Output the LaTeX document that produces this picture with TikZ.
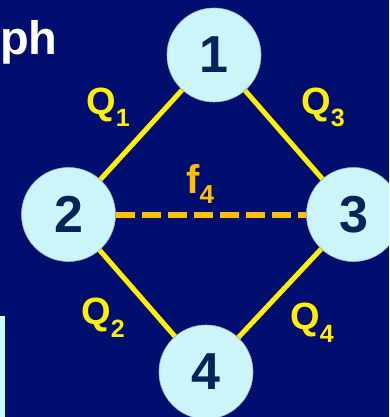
\documentclass[tikz,border=0pt]{standalone}
\usepackage{fontspec}
\setmainfont{Liberation Sans}
\usetikzlibrary{positioning}
\definecolor{slidenavy}{RGB}{0,14,112}
\definecolor{nodecyan}{RGB}{204,245,250}
\definecolor{digitnavy}{RGB}{0,36,92}
\definecolor{edgeyellow}{RGB}{255,240,0}
\definecolor{flowgold}{RGB}{255,192,0}
\definecolor{barcyan}{RGB}{204,255,255}

\begin{document}
\begin{tikzpicture}[
        x=1pt, y=-1pt,
        vertex/.style={circle, fill=nodecyan, draw=nodecyan!75!slidenavy, line width=0.6pt, minimum size=94pt, inner sep=0pt, font=\fontsize{52}{52}\selectfont\bfseries, text=digitnavy},
        pipe/.style={edgeyellow, line width=5pt},
        flow/.style={flowgold, line width=6pt, dash pattern=on 19pt off 7pt},
        qlabel/.style={anchor=base west, inner sep=0pt, text=edgeyellow, font=\fontsize{38}{38}\selectfont\bfseries}
    ]
        \useasboundingbox (0,0) rectangle (389,417);
        \clip (0,0) rectangle (389,417);
        \fill[slidenavy] (0,0) rectangle (389,417);
        \fill[barcyan] (0,316) rectangle (5,417);

        \node[anchor=base west, inner sep=0pt, text=white, font=\fontsize{47}{47}\selectfont\bfseries] (title) at (0,55) {ph};

        \node[vertex] (n1) at (214,55) {1};
        \node[vertex] (n2) at (68.5,214.5) {2};
        \node[vertex] (n3) at (353.5,214.5) {3};
        \node[vertex] (n4) at (206,372) {4};

        \node[qlabel] (q1) at (86,114) {Q\raisebox{-12pt}{\fontsize{25}{25}\selectfont 1}};
        \node[qlabel] (q3) at (301,114) {Q\raisebox{-12pt}{\fontsize{25}{25}\selectfont 3}};
        \node[qlabel] (q2) at (81,324) {Q\raisebox{-13pt}{\fontsize{25}{25}\selectfont 2}};
        \node[qlabel] (q4) at (290,329) {Q\raisebox{-13pt}{\fontsize{25}{25}\selectfont 4}};
        \node[qlabel, text=flowgold, font=\fontsize{40}{40}\selectfont\bfseries] (f4) at (186,193) {f\raisebox{-10pt}{\fontsize{26}{26}\selectfont 4}};

        \draw[pipe] (n1) -- (n2);
        \draw[pipe] (n1) -- (n3);
        \draw[pipe] (n2) -- (n4);
        \draw[pipe] (n3) -- (n4);
        \draw[flow] (n2) -- (n3);
    \end{tikzpicture}
\end{document}
